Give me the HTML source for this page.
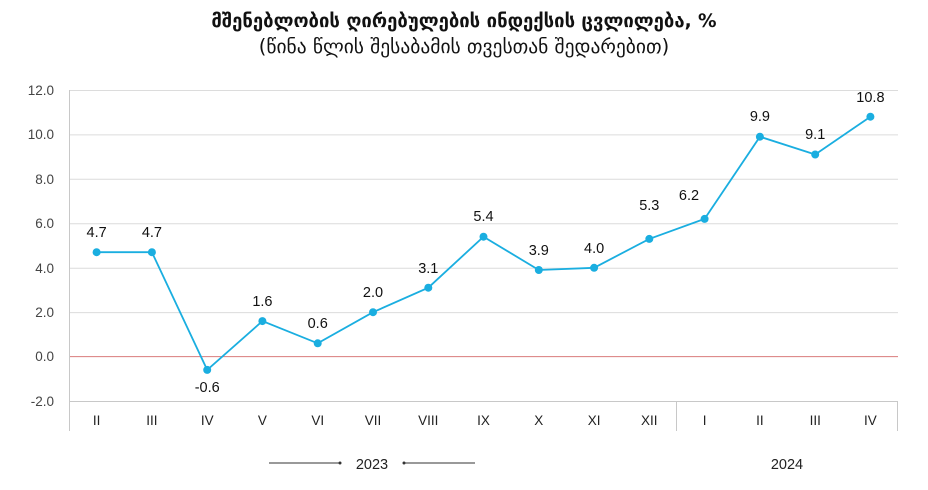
<!DOCTYPE html>
<html><head><meta charset="utf-8"><style>
body{margin:0;background:#fff;}
svg{display:block;font-family:"Liberation Sans","DejaVu Sans",sans-serif;}
</style></head><body>
<svg width="928" height="490" viewBox="0 0 928 490">
<text x="464" y="27" text-anchor="middle" font-size="18.5" font-weight="bold" fill="#111" font-family="DejaVu Sans, sans-serif">მშენებლობის ღირებულების ინდექსის ცვლილება, %</text>
<text x="464" y="53" text-anchor="middle" font-size="19.5" fill="#111" font-family="DejaVu Sans, sans-serif">(წინა წლის შესაბამის თვესთან შედარებით)</text>
<g stroke="#dcdcdc" stroke-width="1">
<line x1="69" x2="898" y1="90.5" y2="90.5"/>
<line x1="69" x2="898" y1="134.9" y2="134.9"/>
<line x1="69" x2="898" y1="179.3" y2="179.3"/>
<line x1="69" x2="898" y1="223.8" y2="223.8"/>
<line x1="69" x2="898" y1="268.2" y2="268.2"/>
<line x1="69" x2="898" y1="312.6" y2="312.6"/>
</g>
<line x1="69" x2="898" y1="401.5" y2="401.5" stroke="#c8c8c8"/>
<line x1="69" x2="898" y1="356.6" y2="356.6" stroke="#d97b7b"/>
<line x1="69.5" x2="69.5" y1="90" y2="431" stroke="#c8c8c8"/>
<line x1="676.5" x2="676.5" y1="401" y2="431" stroke="#c8c8c8"/>
<line x1="897.5" x2="897.5" y1="401" y2="431" stroke="#c8c8c8"/>
<g font-size="13.5" fill="#444" text-anchor="end">
<text x="54" y="95">12.0</text><text x="54" y="139">10.0</text><text x="54" y="184">8.0</text>
<text x="54" y="228">6.0</text><text x="54" y="273">4.0</text><text x="54" y="317">2.0</text>
<text x="54" y="361">0.0</text><text x="54" y="406">-2.0</text>
</g>
<g font-size="13.5" fill="#222" text-anchor="middle">
<text x="96.6" y="425">II</text><text x="151.9" y="425">III</text><text x="207.2" y="425">IV</text>
<text x="262.4" y="425">V</text><text x="317.7" y="425">VI</text><text x="373" y="425">VII</text>
<text x="428.3" y="425">VIII</text><text x="483.5" y="425">IX</text><text x="538.8" y="425">X</text>
<text x="594.1" y="425">XI</text><text x="649.3" y="425">XII</text><text x="704.6" y="425">I</text>
<text x="759.9" y="425">II</text><text x="815.2" y="425">III</text><text x="870.4" y="425">IV</text>
<text x="372" y="469" font-size="14.5">2023</text>
<text x="787" y="469" font-size="14.5">2024</text>
</g>
<line x1="269" x2="340" y1="463" y2="463" stroke="#333"/><circle cx="340" cy="463" r="1.5" fill="#333"/>
<line x1="404" x2="475" y1="463" y2="463" stroke="#333"/><circle cx="404" cy="463" r="1.5" fill="#333"/>
<polyline fill="none" stroke="#1aaee0" stroke-width="1.8" points="96.6,252.2 151.9,252.2 207.2,369.9 262.4,321.1 317.7,343.3 373,312.2 428.3,287.7 483.5,236.7 538.8,270 594.1,267.8 649.3,238.9 704.6,218.9 759.9,136.7 815.2,154.5 870.4,116.7"/>
<g fill="#1aaee0">
<circle cx="96.6" cy="252.2" r="4"/><circle cx="151.9" cy="252.2" r="4"/><circle cx="207.2" cy="369.9" r="4"/>
<circle cx="262.4" cy="321.1" r="4"/><circle cx="317.7" cy="343.3" r="4"/><circle cx="373" cy="312.2" r="4"/>
<circle cx="428.3" cy="287.7" r="4"/><circle cx="483.5" cy="236.7" r="4"/><circle cx="538.8" cy="270" r="4"/>
<circle cx="594.1" cy="267.8" r="4"/><circle cx="649.3" cy="238.9" r="4"/><circle cx="704.6" cy="218.9" r="4"/>
<circle cx="759.9" cy="136.7" r="4"/><circle cx="815.2" cy="154.5" r="4"/><circle cx="870.4" cy="116.7" r="4"/>
</g>
<g font-size="14.5" fill="#111" text-anchor="middle">
<text x="96.6" y="237">4.7</text><text x="151.9" y="237">4.7</text><text x="207.2" y="392">-0.6</text>
<text x="262.4" y="306">1.6</text><text x="317.7" y="328">0.6</text><text x="373" y="297">2.0</text>
<text x="428.3" y="273">3.1</text><text x="483.5" y="221">5.4</text><text x="538.8" y="255">3.9</text>
<text x="594.1" y="253">4.0</text><text x="649.3" y="210">5.3</text><text x="689" y="200">6.2</text>
<text x="759.9" y="121">9.9</text><text x="815.2" y="139">9.1</text><text x="870.4" y="102">10.8</text>
</g>
</svg>
</body></html>
